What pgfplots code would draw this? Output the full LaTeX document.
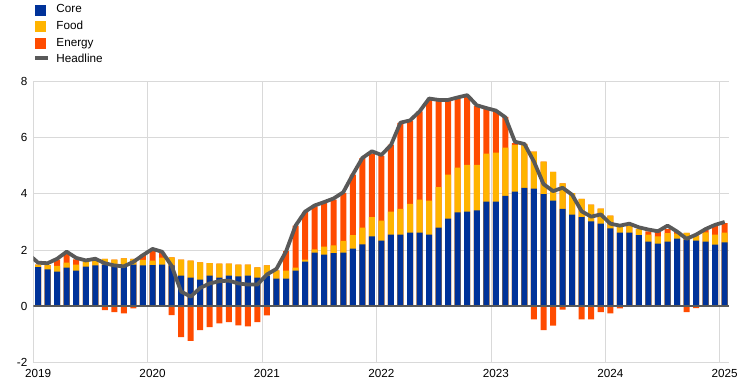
\documentclass[border=0pt]{standalone}
\usepackage{fontspec}
\setmainfont{Liberation Sans}
\usepackage{pgfplots}
\usepackage{pgfplotstable}
\pgfplotsset{compat=1.18}
\definecolor{corec}{HTML}{003299}
\definecolor{foodc}{HTML}{FFB400}
\definecolor{energyc}{HTML}{FF4B00}
\definecolor{headc}{HTML}{595959}
\definecolor{gridc}{HTML}{D9D9D9}

% monthly contributions, Jan 2019 (x=0.5) ... Jan 2025 (x=72.5)
\pgfplotstableread{
x core food energy
0.5 1.39 0.09 0
1.5 1.31 0.15 0
2.5 1.23 0.21 0.22
3.5 1.37 0.18 0.35
4.5 1.27 0.21 0.19
5.5 1.41 0.17 0
6.5 1.45 0.17 0
7.5 1.48 0.21 -0.14
8.5 1.40 0.26 -0.21
9.5 1.40 0.30 -0.26
10.5 1.48 0.21 -0.08
11.5 1.45 0.20 0.19
12.5 1.46 0.16 0.36
13.5 1.48 0.25 0.18
14.5 1.45 0.29 -0.32
15.5 1.09 0.57 -1.10
16.5 1.02 0.60 -1.24
17.5 0.95 0.61 -0.85
18.5 1.09 0.44 -0.75
19.5 1.02 0.50 -0.61
20.5 1.09 0.43 -0.57
21.5 1.06 0.42 -0.68
22.5 1.09 0.39 -0.72
23.5 1.02 0.36 -0.57
24.5 1.09 0.36 -0.33
25.5 0.98 0.30 0
26.5 0.98 0.29 0.69
27.5 1.27 0.10 1.50
28.5 1.59 0.07 1.70
29.5 1.91 0.11 1.54
30.5 1.84 0.28 1.56
31.5 1.89 0.28 1.63
32.5 1.91 0.42 1.71
33.5 2.05 0.48 2.16
34.5 2.20 0.60 2.48
35.5 2.49 0.68 2.27
36.5 2.34 0.71 2.31
37.5 2.55 0.82 2.39
38.5 2.55 0.92 3.06
39.5 2.62 1.03 2.96
40.5 2.62 1.18 3.14
41.5 2.55 1.21 3.62
42.5 2.80 1.44 3.09
43.5 3.12 1.57 2.64
44.5 3.34 1.60 2.47
45.5 3.37 1.67 2.46
46.5 3.41 1.63 2.10
47.5 3.73 1.71 1.58
48.5 3.73 1.74 1.50
49.5 3.93 1.72 1.10
50.5 4.08 1.67 0.06
51.5 4.22 1.56 0
52.5 4.19 1.32 -0.47
53.5 3.99 1.16 -0.85
54.5 3.76 1.03 -0.69
55.5 3.47 0.91 -0.12
56.5 3.26 0.77 0
57.5 3.17 0.65 -0.47
58.5 3.02 0.60 -0.47
59.5 2.94 0.54 -0.21
60.5 2.77 0.46 -0.26
61.5 2.62 0.23 -0.08
62.5 2.62 0.23 0
63.5 2.53 0.22 0
64.5 2.30 0.25 0.12
65.5 2.23 0.26 0.16
66.5 2.30 0.30 0.15
67.5 2.41 0.18 0.08
68.5 2.37 0.24 -0.21
69.5 2.34 0.18 -0.07
70.5 2.30 0.33 0.08
71.5 2.19 0.36 0.35
72.5 2.27 0.35 0.34
}\bars

\pgfplotstableread{
x headline
-0.5 1.85
0.5 1.55
1.5 1.53
2.5 1.69
3.5 1.94
4.5 1.72
5.5 1.63
6.5 1.69
7.5 1.53
8.5 1.45
9.5 1.42
10.5 1.58
11.5 1.82
12.5 2.04
13.5 1.94
14.5 1.44
15.5 0.52
16.5 0.34
17.5 0.65
18.5 0.81
19.5 0.89
20.5 0.91
21.5 0.81
22.5 0.77
23.5 0.77
24.5 1.13
25.5 1.33
26.5 1.95
27.5 2.87
28.5 3.37
29.5 3.59
30.5 3.71
31.5 3.84
32.5 4.06
33.5 4.69
34.5 5.28
35.5 5.52
36.5 5.39
37.5 5.74
38.5 6.54
39.5 6.62
40.5 6.94
41.5 7.40
42.5 7.35
43.5 7.35
44.5 7.44
45.5 7.52
46.5 7.16
47.5 7.06
48.5 6.97
49.5 6.73
50.5 5.86
51.5 5.78
52.5 5.15
53.5 4.35
54.5 4.10
55.5 4.22
56.5 3.97
57.5 3.38
58.5 3.19
59.5 3.27
60.5 2.94
61.5 2.87
62.5 2.94
63.5 2.81
64.5 2.73
65.5 2.67
66.5 2.87
67.5 2.66
68.5 2.40
69.5 2.55
70.5 2.75
71.5 2.90
72.5 3.00
}\headline

\begin{document}
\begin{tikzpicture}
\begin{axis}[
  at={(0pt,0pt)}, anchor=south west,
  scale only axis, width=696.2pt, height=280.6pt,
  xmin=0, xmax=73, ymin=-2, ymax=8,
  axis line style={draw=none},
  tick style={draw=none},
  grid=major,
  major grid style={draw=gridc, line width=1pt},
  xtick={0,12,...,72},
  xticklabels={2019,2020,2021,2022,2023,2024,2025},
  ytick={-2,0,2,4,6,8},
  /pgf/number format/assume math mode=true,
  tick label style={font=\fontsize{11.7}{14}\selectfont, text=black},
  xticklabel style={xshift=4.77pt, yshift=-3.8pt},
  yticklabel style={xshift=-2.5pt},
  legend style={at={(0,1.280)}, anchor=north west, draw=none, fill=none,
    font=\fontsize{11.7}{14}\selectfont, inner sep=0pt, row sep=3.9pt,
    nodes={inner xsep=6pt, inner ysep=1pt, text height=8.4pt, text depth=2.4pt}},
  legend cell align=left,
]
\addlegendimage{legend image code/.code={\fill[corec] (0pt,-5pt) rectangle (10pt,5pt);}}
\addlegendimage{legend image code/.code={\fill[foodc] (0pt,-5pt) rectangle (10pt,5pt);}}
\addlegendimage{legend image code/.code={\fill[energyc] (0pt,-5pt) rectangle (10pt,5pt);}}
\addlegendimage{legend image code/.code={\draw[headc, line width=4pt] (0pt,1.5pt) -- (13pt,1.5pt);}}
\legend{Core,Food,Energy,Headline}

% energy (positive part) on top of core + food
\addplot[ybar, bar width=6pt, bar shift=0pt, fill=energyc, draw=none]
  table[x=x, y expr={\thisrow{core}+\thisrow{food}+max(\thisrow{energy},0)}] {\bars};
% food on top of core
\addplot[ybar, bar width=6pt, bar shift=0pt, fill=foodc, draw=none]
  table[x=x, y expr={\thisrow{core}+\thisrow{food}}] {\bars};
% core
\addplot[ybar, bar width=6pt, bar shift=0pt, fill=corec, draw=none]
  table[x=x, y=core] {\bars};
% energy (negative part) below zero
\addplot[ybar, bar width=6pt, bar shift=0pt, fill=energyc, draw=none]
  table[x=x, y expr={min(\thisrow{energy},0)}] {\bars};

\draw[headc, line width=2pt] (axis cs:0,0) -- (axis cs:73,0);

\addplot[headc, line width=3.8pt, line join=round, no markers]
  table[x=x, y=headline] {\headline};
\end{axis}
\pgfresetboundingbox
\path (-33.3pt,-24.7pt) rectangle (708.7pt,362.3pt);
\end{tikzpicture}
\end{document}
